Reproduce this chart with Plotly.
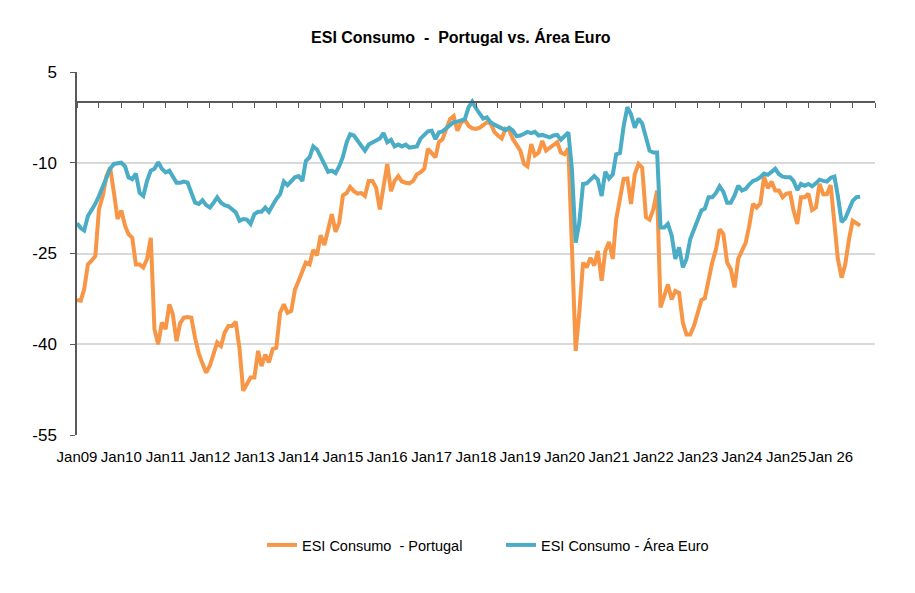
import pandas as pd
import plotly.graph_objects as go

# Monthly data, Jan 2009 onwards
start_month = "2009-01-01"

portugal = [
    -32.7, -32.8, -30.9, -26.8, -26.2, -25.4, -17.7, -15.5, -12.2, -10.8, -14.9, -19.3,
    -17.9, -20.4, -21.8, -22.4, -26.8, -26.8, -27.3, -25.9, -22.4, -37.5, -40.0, -36.4,
    -37.5, -33.4, -35.0, -39.5, -36.5, -35.6, -35.5, -35.6, -39.0, -41.5, -43.2, -44.7,
    -43.5, -41.7, -39.7, -40.3, -38.1, -37.0, -37.0, -36.3, -40.8, -47.7, -46.5, -45.5,
    -45.5, -41.1, -43.6, -41.7, -43.0, -40.8, -40.6, -34.8, -33.4, -34.8, -34.5, -31.0,
    -29.5, -28.0, -26.5, -26.8, -24.4, -25.3, -22.0, -23.6, -20.7, -18.5, -21.4, -19.9,
    -15.4, -15.0, -14.0, -14.7, -15.1, -15.0, -15.5, -13.0, -13.0, -14.1, -17.7, -13.5,
    -10.2, -14.7, -13.0, -12.2, -13.1, -13.3, -13.4, -13.0, -11.9, -11.6, -11.0, -7.7,
    -8.3, -9.1, -6.6, -6.1, -4.4, -2.8, -2.3, -4.7, -3.3, -2.9, -3.9, -4.3,
    -4.4, -4.2, -3.8, -3.3, -3.5, -4.9, -5.5, -6.0, -4.4, -4.6, -6.1, -7.2,
    -8.0, -10.2, -10.6, -6.9, -8.8, -8.3, -6.4, -8.0, -7.5, -7.0, -6.6, -8.3,
    -8.6, -7.6, -24.0, -41.1, -34.8, -26.5, -27.3, -25.7, -27.0, -24.6, -29.5, -24.6,
    -23.1, -25.9, -19.3, -15.9, -12.7, -12.6, -16.8, -11.9, -10.2, -10.8, -19.0, -19.4,
    -17.7, -14.6, -33.9, -32.0, -30.1, -32.6, -31.2, -31.5, -36.4, -38.4, -38.4, -37.0,
    -35.0, -32.7, -32.4, -29.0, -26.5, -24.3, -21.0, -21.8, -26.5, -27.6, -30.6, -25.9,
    -24.4, -23.2, -20.4, -16.8, -17.4, -16.7, -12.3, -14.2, -13.1, -14.6, -14.6, -15.7,
    -15.1, -15.0, -17.9, -20.1, -15.7, -15.7, -15.1, -17.8, -17.4, -13.5, -15.2, -15.2,
    -13.7, -19.9, -25.9, -29.0, -26.8, -22.6, -19.6, -20.0, -20.4,
]

area_euro = [
    -20.0, -20.8, -21.2, -18.8, -17.8, -16.8, -15.5, -14.0, -12.8, -11.0, -10.2, -10.1,
    -10.0, -10.6, -12.4, -12.7, -11.8, -15.0, -15.5, -13.0, -11.3, -11.0, -9.9, -11.0,
    -11.6, -11.3, -12.4, -13.3, -13.3, -13.1, -13.3, -15.2, -16.6, -16.8, -16.2, -17.0,
    -17.4, -16.6, -15.7, -16.6, -17.0, -17.2, -17.6, -18.2, -19.6, -19.3, -19.4, -20.1,
    -18.5, -18.1, -18.1, -17.4, -18.1, -17.0, -16.0, -15.2, -13.1, -13.7, -13.1, -12.4,
    -12.2, -13.0, -9.7, -9.1, -7.3, -7.8, -9.0, -10.4, -11.5, -11.3, -11.7, -10.6,
    -9.0, -6.6, -5.3, -5.5, -6.4, -7.2, -8.0, -7.0, -6.7, -6.4, -6.0, -5.1,
    -6.6, -6.2, -7.3, -7.0, -7.3, -7.0, -7.5, -7.4, -7.3, -6.0, -5.3, -4.8,
    -4.7, -6.1, -5.0, -4.8, -4.3, -3.8, -3.3, -3.2, -3.0, -2.8, -0.8, 0.1,
    -1.0, -1.9, -2.7, -2.5, -3.3, -3.7, -4.0, -4.3, -4.6, -4.2, -4.7, -5.6,
    -5.5, -5.2, -4.9, -5.1, -4.9, -5.5, -5.4, -5.6, -5.8, -5.5, -5.4, -6.2,
    -5.6, -5.0, -11.0, -23.2, -19.9, -13.5, -13.4, -12.9, -12.2, -12.8, -15.5, -11.5,
    -12.6, -11.9, -8.6, -8.4, -4.0, -0.8, -2.0, -4.2, -2.7, -3.5, -6.0, -8.0,
    -8.3, -8.3, -20.7, -20.7, -20.1, -22.0, -25.9, -24.0, -27.3, -25.9, -22.6, -21.0,
    -19.7, -17.9, -17.6, -15.7, -15.7, -15.0, -13.9, -14.8, -16.6, -16.6, -15.4, -13.8,
    -14.6, -14.3, -13.6, -13.0, -12.8, -12.4, -11.8, -12.0, -11.5, -11.0, -11.9, -12.3,
    -12.4, -12.4, -13.0, -14.5, -13.5, -13.8, -13.5, -13.9, -13.4, -12.8, -13.0, -13.1,
    -12.5, -12.3, -15.5, -19.8, -19.2, -17.7, -16.3, -15.7, -15.6,
]

years = list(range(2009, 2027))
tick_labels = ["Jan%02d" % (y % 100) for y in years[:-1]] + ["Jan 26"]
y_ticks = [5, -10, -25, -40, -55]
y_tick_labels = ["5", "-10", "-25", "-40", "-55"]

dates_pt = pd.date_range(start_month, periods=len(portugal), freq="MS")
dates_ea = pd.date_range(start_month, periods=len(area_euro), freq="MS")
tick_dates = [pd.Timestamp(f"{y}-01-01") for y in years]

ORANGE = "#F79646"
BLUE = "#4BACC6"
AXIS = "#595959"
GRID = "#D9D9D9"
FONT = "Liberation Sans, Arial, sans-serif"

fig = go.Figure()
fig.add_trace(go.Scatter(
    x=dates_pt, y=portugal, mode="lines",
    name="ESI Consumo\u00a0 - Portugal",
    line=dict(color=ORANGE, width=4),
))
fig.add_trace(go.Scatter(
    x=dates_ea, y=area_euro, mode="lines",
    name="ESI Consumo - Área Euro",
    line=dict(color=BLUE, width=4),
))
# helper trace so the zero-line category axis (ticks every 6 months) is drawn
fig.add_trace(go.Scatter(
    x=[dates_pt[0]], y=[None], xaxis="x2", showlegend=False,
    hoverinfo="skip", mode="lines",
))

x_range = ["2009-01-01", "2027-01-01"]

fig.update_layout(
    width=915, height=593,
    paper_bgcolor="white", plot_bgcolor="white",
    margin=dict(l=69, r=48, t=64, b=166),
    font=dict(family=FONT, color="#000000"),
    title=dict(
        text="<b>ESI Consumo\u00a0 -\u00a0 Portugal vs. Área Euro</b>",
        x=0.481, xref="paper", xanchor="center",
        y=1 - 29 / 593, yref="container", yanchor="middle",
        font=dict(size=16, family=FONT, color="#000000"),
    ),
    xaxis=dict(
        type="date", range=x_range,
        tickmode="array", tickvals=tick_dates, ticktext=tick_labels,
        tickangle=0,
        showgrid=False, zeroline=False, showline=False, ticks="",
        tickfont=dict(size=15, family=FONT, color="#000000"),
        ticklabelstandoff=11,
    ),
    xaxis2=dict(
        type="date", range=x_range, overlaying="x", anchor="free",
        position=55 / 60, side="bottom",
        tick0="2009-01-01", dtick="M6", ticks="outside", ticklen=5,
        tickcolor=AXIS, tickwidth=1, showticklabels=False,
        showline=True, linecolor=AXIS, linewidth=1.5,
        showgrid=False, zeroline=False,
    ),
    yaxis=dict(
        range=[-55, 5], tickmode="array", tickvals=y_ticks,
        ticktext=y_tick_labels,
        showgrid=True, gridcolor=GRID, gridwidth=1.5,
        zeroline=False, showline=True, linecolor=AXIS, linewidth=1.5,
        ticks="outside", ticklen=5, tickcolor=AXIS,
        tickfont=dict(size=17, family=FONT, color="#000000"),
        ticklabelstandoff=10,
    ),
    legend=dict(
        orientation="h", x=0.2318, xanchor="left", y=-0.303, yanchor="middle",
        font=dict(size=14.5, family=FONT, color="#000000"),
        entrywidth=194, entrywidthmode="pixels",
        itemwidth=30, tracegroupgap=0,
    ),
    showlegend=True,
)

fig.write_html("out.html")
